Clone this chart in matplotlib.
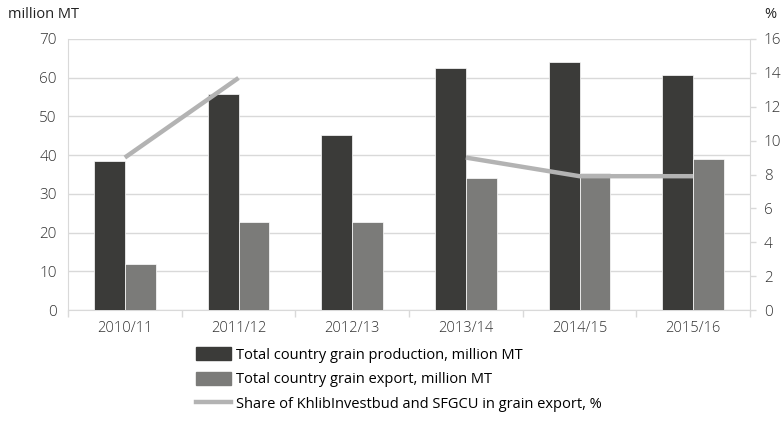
import matplotlib
matplotlib.use("Agg")
import matplotlib.pyplot as plt
import numpy as np
from matplotlib.patches import Patch
from matplotlib.lines import Line2D

plt.rcParams['font.family'] = ['Open Sans', 'DejaVu Sans']

years = ["2010/11", "2011/12", "2012/13", "2013/14", "2014/15", "2015/16"]
production = [38.4, 55.8, 45.1, 62.5, 64.0, 60.6]
export = [11.8, 22.8, 22.8, 34.1, 35.5, 38.9]
share = [9.0, 13.7, np.nan, 9.0, 7.9, 7.9]

c_prod = "#3b3b39"
c_exp = "#7b7b79"
c_share = "#b3b3b3"
c_grid = "#d9d9d9"

fig = plt.figure(figsize=(7.84, 4.22), dpi=100)
ax = fig.add_axes([68/784, 1-310/422, (750-68)/784, (310-39)/422])
ax2 = ax.twinx()

x = np.arange(len(years))
w = 0.27
ax.bar(x - w/2, production, w, color=c_prod, edgecolor="white", linewidth=0.5, zorder=3)
ax.bar(x + w/2, export, w, color=c_exp, edgecolor="white", linewidth=0.5, zorder=3)
ax2.plot(x, share, color=c_share, linewidth=3.2, solid_capstyle="butt", zorder=4)

ax.set_xlim(-0.5, len(years)-0.5)
ax.set_ylim(0, 70)
ax.set_yticks(range(0, 71, 10))
ax2.set_ylim(0, 16)
ax2.set_yticks(range(0, 17, 2))
ax.yaxis.grid(True, color=c_grid, linewidth=1, zorder=0)
ax.set_axisbelow(True)

ax.set_xticks(x)
ax.set_xticklabels(years)
ax.set_xticks(np.arange(-0.5, len(years), 1), minor=True)
ax.tick_params(axis="x", which="major", length=0, pad=8, labelsize=10.5, colors="#333333")
ax.tick_params(axis="x", which="minor", length=5, color=c_grid, width=1)
ax.tick_params(axis="y", length=0, labelsize=11, colors="#333333", pad=8)
ax2.tick_params(axis="y", length=4, color=c_grid, width=1, labelsize=11, colors="#333333", pad=6)
for lab in ax.get_xticklabels() + ax.get_yticklabels() + ax2.get_yticklabels():
    lab.set_color("#333333")
    lab.set_fontweight("light")

for a in (ax, ax2):
    for s in a.spines.values():
        s.set_visible(False)
ax.spines["left"].set_visible(True)
ax.spines["left"].set_color(c_grid)
ax.spines["bottom"].set_visible(True)
ax.spines["bottom"].set_color(c_grid)
ax2.spines["right"].set_visible(True)
ax2.spines["right"].set_color(c_grid)

fig.text(8/784, 1-15/422, "million MT", fontsize=10.5, va="center", ha="left", color="#222222")
fig.text(776/784, 1-15/422, "%", fontsize=10.5, va="center", ha="right", color="#222222")

handles = [Patch(color=c_prod), Patch(color=c_exp), Line2D([0], [0], color=c_share, linewidth=3.2)]
labels = ["Total country grain production, million MT",
          "Total country grain export, million MT",
          "Share of KhlibInvestbud and SFGCU in grain export, %"]
fig.legend(handles, labels, loc="upper left", bbox_to_anchor=(196/784, 1-347/422),
           frameon=False, fontsize=10.5, handlelength=2.4, handleheight=1.0,
           handletextpad=0.35, labelspacing=0.62, borderaxespad=0, borderpad=0)

fig.savefig("out.png", dpi=100)
